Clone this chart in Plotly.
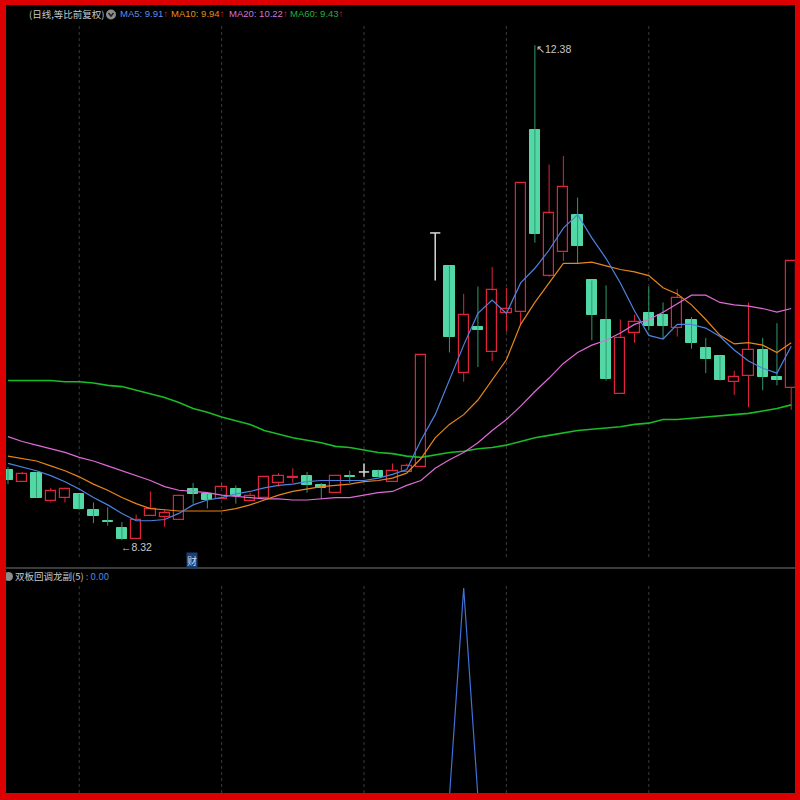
import plotly.graph_objects as go

# ---------------- data ----------------
opens = [8.90, 8.80, 8.87, 8.64, 8.67, 8.70, 8.57, 8.48, 8.42, 8.33,
         8.52, 8.51, 8.49, 8.74, 8.70, 8.66, 8.74, 8.64, 8.67, 8.79,
         8.83, 8.85, 8.77, 8.71, 8.85, 8.88, 8.89, 8.80, 8.88, 8.92,
         10.84, 10.57, 9.69, 10.07, 9.86, 10.18, 10.19, 11.68, 10.49, 10.68,
         10.99, 10.45, 10.13, 9.52, 10.02, 10.18, 10.17, 10.06, 10.13, 9.90,
         9.83, 9.62, 9.67, 9.88, 9.66, 9.57]
highs = [8.92, 8.88, 8.88, 8.75, 8.75, 8.70, 8.63, 8.59, 8.47, 8.53,
         8.72, 8.57, 8.68, 8.79, 8.70, 8.79, 8.77, 8.71, 8.84, 8.87,
         8.91, 8.88, 8.79, 8.85, 8.89, 8.95, 8.90, 8.95, 8.95, 9.84,
         10.84, 10.57, 10.34, 10.40, 10.56, 10.39, 11.25, 12.38, 11.40, 11.47,
         11.13, 10.45, 10.41, 10.13, 10.17, 10.40, 10.27, 10.38, 10.15, 9.98,
         9.83, 9.71, 10.27, 9.98, 10.10, 10.61]
lows = [8.78, 8.80, 8.67, 8.63, 8.63, 8.57, 8.46, 8.44, 8.32, 8.33,
        8.52, 8.43, 8.49, 8.62, 8.58, 8.66, 8.62, 8.64, 8.67, 8.76,
        8.79, 8.71, 8.66, 8.71, 8.79, 8.84, 8.84, 8.80, 8.88, 8.92,
        10.45, 9.86, 9.62, 9.74, 9.79, 10.03, 10.09, 10.76, 10.48, 10.61,
        10.59, 9.96, 9.63, 9.52, 9.94, 10.04, 9.97, 9.99, 9.89, 9.69,
        9.63, 9.51, 9.41, 9.55, 9.59, 9.39]
closes = [8.81, 8.86, 8.67, 8.72, 8.74, 8.58, 8.52, 8.47, 8.33, 8.49,
          8.58, 8.54, 8.68, 8.70, 8.65, 8.76, 8.68, 8.68, 8.84, 8.85,
          8.84, 8.77, 8.75, 8.85, 8.84, 8.88, 8.84, 8.89, 8.93, 9.84,
          10.84, 9.99, 10.17, 10.04, 10.37, 10.22, 11.25, 10.83, 11.00, 11.22,
          10.73, 10.17, 9.64, 9.98, 10.11, 10.08, 10.08, 10.31, 9.94, 9.81,
          9.63, 9.66, 9.88, 9.66, 9.63, 10.61]

ma5 = [8.95, 8.92, 8.89, 8.85, 8.80, 8.74, 8.67, 8.61, 8.54, 8.48,
       8.48, 8.49, 8.54, 8.61, 8.65, 8.67, 8.70, 8.72, 8.75, 8.77,
       8.78, 8.80, 8.81, 8.81, 8.81, 8.81, 8.83, 8.86, 8.90, 9.14,
       9.35, 9.63, 9.92, 10.18, 10.29, 10.18, 10.43, 10.55, 10.70, 10.88,
       10.99, 10.80, 10.63, 10.43, 10.20, 10.00, 9.97, 10.09, 10.09, 10.06,
       9.99, 9.88, 9.79, 9.73, 9.69, 9.91]
ma10 = [9.01, 8.99, 8.97, 8.93, 8.89, 8.84, 8.78, 8.73, 8.67, 8.62,
        8.58, 8.57, 8.56, 8.56, 8.56, 8.56, 8.58, 8.61, 8.65, 8.69,
        8.72, 8.74, 8.76, 8.77, 8.78, 8.80, 8.81, 8.83, 8.87, 8.99,
        9.16, 9.27, 9.35, 9.47, 9.63, 9.80, 10.09, 10.27, 10.43, 10.59,
        10.59, 10.60, 10.57, 10.54, 10.52, 10.49, 10.39, 10.34, 10.25, 10.13,
        10.00, 9.93, 9.94, 9.92, 9.86, 9.94]
ma20 = [9.17, 9.13, 9.10, 9.07, 9.04, 9.00, 8.97, 8.93, 8.89, 8.85,
        8.81, 8.76, 8.73, 8.72, 8.71, 8.69, 8.68, 8.67, 8.66, 8.66,
        8.65, 8.65, 8.66, 8.67, 8.67, 8.69, 8.71, 8.72, 8.77, 8.81,
        8.91, 8.98, 9.04, 9.12, 9.22, 9.31, 9.42, 9.54, 9.65, 9.77,
        9.86, 9.92, 9.96, 10.02, 10.09, 10.13, 10.19, 10.26, 10.33, 10.33,
        10.27, 10.25, 10.24, 10.22, 10.19, 10.22]
ma60 = [9.63, 9.63, 9.63, 9.63, 9.62, 9.62, 9.61, 9.59, 9.58, 9.55,
        9.52, 9.49, 9.45, 9.40, 9.37, 9.33, 9.30, 9.27, 9.22, 9.19,
        9.16, 9.14, 9.12, 9.09, 9.08, 9.06, 9.04, 9.03, 9.01, 9.00,
        9.02, 9.04, 9.05, 9.07, 9.08, 9.10, 9.13, 9.16, 9.18, 9.20,
        9.22, 9.23, 9.24, 9.25, 9.27, 9.28, 9.31, 9.31, 9.32, 9.33,
        9.34, 9.35, 9.36, 9.38, 9.40, 9.43]
signal = [0, 0, 0, 0, 0, 0, 0, 0, 0, 0,
          0, 0, 0, 0, 0, 0, 0, 0, 0, 0,
          0, 0, 0, 0, 0, 0, 0, 0, 0, 0,
          0, 0, 1, 0, 0, 0, 0, 0, 0, 0,
          0, 0, 0, 0, 0, 0, 0, 0, 0, 0,
          0, 0, 0, 0, 0, 0]
month_marks = [5, 15, 25, 35, 45]
fin_mark = 13  # "财" marker candle
title_text = "(日线,等比前复权)"
ind_name = "双板回调龙副(5)"
ind_value = 0.00

# ---------------- geometry / styles ----------------
W = H = 800
n = len(closes)
idx = list(range(n))
SP = 14.24          # px per candle
X0 = 8.0            # px of first candle centre
PTOP, PPX = 12.75, 0.0082   # price at top edge, price per px
S_TOP_PX, S_ZERO_PX = 588, 797

UP = "#e2233c"
DN = "#52d7a7"
DN_W = "#2f9a6c"
FLAT = "#d8d8d8"
C5, C10, C20, C60 = "#4d83e0", "#e8861a", "#e06ad8", "#19bb28"
L5, L10, L20, L60 = "#5f8fe6", "#e0901c", "#d574d4", "#22b042"
NUMF = "Liberation Sans, Arial, sans-serif"
CJKF = "Noto Sans CJK SC, sans-serif"

def py(p):
    return 1 - p / H

fig = go.Figure()

up_i = [i for i in idx if closes[i] > opens[i] + 1e-9]
dn_i = [i for i in idx if closes[i] < opens[i] - 1e-9]
fl_i = [i for i in idx if abs(closes[i] - opens[i]) <= 1e-9]

# wicks
wx, wy = [], []
for i in up_i:
    if highs[i] > closes[i]:
        wx += [i, i, None]; wy += [highs[i], closes[i], None]
    if lows[i] < opens[i]:
        wx += [i, i, None]; wy += [opens[i], lows[i], None]
fig.add_trace(go.Scatter(x=wx, y=wy, mode="lines", line=dict(color=UP, width=1), hoverinfo="skip"))
gx, gy = [], []
for i in dn_i:
    gx += [i, i, None]; gy += [highs[i], lows[i], None]
fig.add_trace(go.Scatter(x=gx, y=gy, mode="lines", line=dict(color=DN_W, width=1), hoverinfo="skip"))
fx, fy = [], []
for i in fl_i:
    fx += [i, i, None, i - 0.36, i + 0.36, None]
    fy += [highs[i], lows[i], None, opens[i], opens[i], None]
fig.add_trace(go.Scatter(x=fx, y=fy, mode="lines", line=dict(color=FLAT, width=1.5), hoverinfo="skip"))

# bodies
fig.add_trace(go.Bar(x=up_i, y=[closes[i] - opens[i] for i in up_i], base=[opens[i] for i in up_i],
                     width=0.72, marker=dict(color="rgba(0,0,0,0)", line=dict(color=UP, width=1.2)),
                     hoverinfo="skip"))
fig.add_trace(go.Bar(x=dn_i, y=[opens[i] - closes[i] for i in dn_i], base=[closes[i] for i in dn_i],
                     width=0.72, marker=dict(color=DN, line=dict(color=DN, width=1)),
                     hoverinfo="skip"))

# moving averages
for arr, col, lw in [(ma60, C60, 1.6), (ma20, C20, 1.2), (ma10, C10, 1.2), (ma5, C5, 1.2)]:
    fig.add_trace(go.Scatter(x=idx, y=arr, mode="lines", line=dict(color=col, width=lw), hoverinfo="skip"))

# indicator (lower panel)
fig.add_trace(go.Scatter(x=idx, y=signal, mode="lines", yaxis="y2",
                         line=dict(color="#3f72d6", width=1.2), hoverinfo="skip"))

s_unit = S_ZERO_PX - S_TOP_PX
fig.update_layout(
    width=W, height=H, margin=dict(l=0, r=0, t=0, b=0),
    paper_bgcolor="#000000", plot_bgcolor="#000000",
    showlegend=False, barmode="overlay", bargap=0,
    xaxis=dict(range=[-X0 / SP, (W - X0) / SP], visible=False, fixedrange=True),
    yaxis=dict(range=[PTOP - PPX * H, PTOP], visible=False, domain=[0, 1]),
    yaxis2=dict(range=[-(H - S_ZERO_PX) / s_unit, S_ZERO_PX / s_unit], visible=False,
                overlaying="y"),
)

shapes = []
for m in month_marks:
    shapes.append(dict(type="line", xref="x", yref="paper", x0=m, x1=m, y0=py(557), y1=py(24),
                       line=dict(color="#3a3a3a", width=1, dash="dot"), layer="below"))
    shapes.append(dict(type="line", xref="x", yref="paper", x0=m, x1=m, y0=py(793), y1=py(586),
                       line=dict(color="#3a3a3a", width=1, dash="dot"), layer="below"))
shapes.append(dict(type="line", xref="paper", yref="paper", x0=0, x1=1, y0=py(568), y1=py(568),
                   line=dict(color="#3c3c3c", width=2)))
shapes.append(dict(type="circle", xref="paper", yref="paper", x0=106 / W, x1=116 / W,
                   y0=py(19.5), y1=py(9.5), fillcolor="#8c8c8c", line=dict(width=0)))
shapes.append(dict(type="path", xref="paper", yref="paper",
                   path=f"M {108.5/W} {py(13)} L {111/W} {py(16)} L {113.5/W} {py(13)}",
                   line=dict(color="#222222", width=1.5)))
shapes.append(dict(type="circle", xref="paper", yref="paper", x0=4 / W, x1=13 / W,
                   y0=py(581), y1=py(572), fillcolor="#8c8c8c", line=dict(width=0)))
RED = "#dd0000"
for (x0, x1, y0, y1) in [(0, 6, 0, 800), (795, 800, 0, 800), (0, 800, 0, 5), (0, 800, 793, 800)]:
    shapes.append(dict(type="rect", xref="paper", yref="paper", x0=x0 / W, x1=x1 / W,
                       y0=py(y1), y1=py(y0), fillcolor=RED, line=dict(width=0), layer="above"))
fig.update_layout(shapes=shapes)

ann = []
def txt(x, y, s, color, size=11, family=NUMF):
    ann.append(dict(xref="paper", yref="paper", x=x / W, y=py(y), text=s, showarrow=False,
                    xanchor="left", yanchor="middle", font=dict(color=color, size=size, family=family)))

txt(27, 14, title_text, "#c8c8c8", 9.5, CJKF)
legend_items = [("MA5", ma5[-1], L5, 118), ("MA10", ma10[-1], L10, 169),
                ("MA20", ma20[-1], L20, 227), ("MA60", ma60[-1], L60, 288)]
for name, val, col, x in legend_items:
    txt(x, 14, f"{name}: {val:.2f}<span style='color:#e0203c'>↑</span>", col, 9.5)

txt(13, 576, f"{ind_name}<span style='color:#4a86e0'> : {ind_value:.2f}</span>", "#c8c8c8", 9.5, CJKF)

imax = max(idx, key=lambda i: highs[i])
imin = min(idx, key=lambda i: lows[i])
ann.append(dict(xref="x", yref="y", x=imax - 0.05, y=highs[imax], text=f"↖{highs[imax]:.2f}",
                showarrow=False, xanchor="left", yanchor="top", yshift=4,
                font=dict(color="#c8c8c8", size=10.5, family=NUMF)))
ann.append(dict(xref="x", yref="y", x=imin - 0.2, y=lows[imin], text=f"←{lows[imin]:.2f}",
                showarrow=False, xanchor="left", yanchor="top", yshift=1,
                font=dict(color="#c8c8c8", size=10.5, family=NUMF)))
ann.append(dict(xref="x", yref="paper", x=fin_mark - 0.1, y=py(560), text="财", showarrow=False,
                xanchor="center", yanchor="middle", bgcolor="#1c3f74", borderpad=0,
                font=dict(color="#c6d8f4", size=10, family=CJKF)))
fig.update_layout(annotations=ann)

fig.write_html("out.html", config={"displayModeBar": False},
               post_script="document.body.style.margin='0';document.body.style.background='#000';")
